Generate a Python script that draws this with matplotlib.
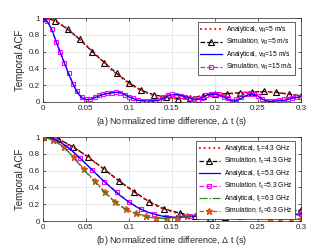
import matplotlib
matplotlib.use("Agg")
import matplotlib.pyplot as plt
import numpy as np

plt.rcParams['font.family'] = ['Liberation Sans', 'DejaVu Sans']
plt.rcParams['mathtext.fontset'] = 'custom'
plt.rcParams['mathtext.rm'] = 'Liberation Sans'
plt.rcParams['mathtext.it'] = 'Liberation Sans'

# ---------- panel (a) ----------
t_a5 = [0.00, 0.01, 0.02, 0.03, 0.04, 0.05, 0.06, 0.07, 0.08, 0.09, 0.10,
        0.11, 0.12, 0.13, 0.14, 0.15, 0.16, 0.17, 0.18, 0.19, 0.20, 0.21,
        0.22, 0.23, 0.24, 0.25, 0.26, 0.27, 0.28, 0.29, 0.30]
acf_a5 = [1.0, 0.98, 0.93, 0.86, 0.77, 0.68, 0.58, 0.48, 0.38, 0.30, 0.22,
          0.16, 0.11, 0.075, 0.05, 0.04, 0.045, 0.055, 0.065, 0.08, 0.09, 0.095,
          0.10, 0.11, 0.115, 0.12, 0.12, 0.115, 0.10, 0.085, 0.07]

t_s5 = [0.0, 0.0143, 0.0286, 0.0429, 0.0571, 0.0714, 0.0857, 0.1, 0.1143,
        0.1286, 0.1429, 0.1571, 0.1714, 0.1857, 0.2, 0.2143, 0.2286, 0.2429,
        0.2571, 0.2714, 0.2857, 0.3]
acf_s5 = [1.0, 0.97, 0.865, 0.745, 0.60, 0.47, 0.34, 0.23, 0.14, 0.085, 0.06,
          0.035, 0.05, 0.07, 0.09, 0.10, 0.11, 0.12, 0.125, 0.115, 0.095, 0.075]

t_15 = [0.000, 0.005, 0.010, 0.015, 0.020, 0.025, 0.030, 0.035, 0.040, 0.045,
        0.050, 0.055, 0.060, 0.065, 0.070, 0.075, 0.080, 0.085, 0.090, 0.095,
        0.100, 0.105, 0.110, 0.115, 0.120, 0.125, 0.130, 0.135, 0.140, 0.145,
        0.150, 0.155, 0.160, 0.165, 0.170, 0.175, 0.180, 0.185, 0.190, 0.195,
        0.200, 0.205, 0.210, 0.215, 0.220, 0.225, 0.230, 0.235, 0.240, 0.245,
        0.250, 0.255, 0.260, 0.265, 0.270, 0.275, 0.280, 0.285, 0.290, 0.295,
        0.300]
acf_a15 = [1.0, 0.96, 0.87, 0.73, 0.59, 0.46, 0.33, 0.21, 0.11, 0.05,
           0.03, 0.03, 0.05, 0.07, 0.09, 0.10, 0.11, 0.115, 0.11, 0.09,
           0.06, 0.04, 0.02, 0.014, 0.012, 0.012, 0.014, 0.02, 0.045, 0.07,
           0.085, 0.088, 0.08, 0.065, 0.05, 0.035, 0.03, 0.05, 0.08, 0.095,
           0.095, 0.08, 0.06, 0.035, 0.01, 0.015, 0.04, 0.07, 0.09, 0.095,
           0.07, 0.035, 0.01, 0.005, 0.01, 0.015, 0.02, 0.03, 0.045, 0.055,
           0.06]
acf_s15 = [1.0, 0.96, 0.865, 0.72, 0.595, 0.47, 0.34, 0.22, 0.127, 0.06,
           0.03, 0.03, 0.06, 0.08, 0.10, 0.105, 0.11, 0.12, 0.11, 0.087,
           0.06, 0.05, 0.024, 0.016, 0.016, 0.016, 0.016, 0.024, 0.063, 0.083,
           0.09, 0.083, 0.07, 0.063, 0.05, 0.03, 0.024, 0.044, 0.083, 0.10,
           0.10, 0.09, 0.063, 0.044, 0.012, 0.032, 0.063, 0.09, 0.10, 0.10,
           0.07, 0.03, 0.016, 0.016, 0.016, 0.024, 0.03, 0.04, 0.05, 0.06,
           0.065]

# ---------- panel (b) ----------
t_b = [0.00, 0.01, 0.02, 0.03, 0.04, 0.05, 0.06, 0.07, 0.08, 0.09, 0.10,
       0.11, 0.12, 0.13, 0.14, 0.15, 0.16, 0.17, 0.18, 0.19, 0.20, 0.21,
       0.22, 0.23, 0.24, 0.25, 0.26, 0.27, 0.28, 0.29, 0.30]
acf_a43 = [1.0, 0.99, 0.96, 0.91, 0.85, 0.78, 0.70, 0.625, 0.545, 0.465, 0.39,
           0.32, 0.25, 0.19, 0.145, 0.11, 0.08, 0.065, 0.055, 0.05, 0.05, 0.055,
           0.06, 0.07, 0.08, 0.09, 0.095, 0.10, 0.105, 0.11, 0.11]
acf_a53 = [1.0, 0.985, 0.94, 0.87, 0.78, 0.68, 0.58, 0.48, 0.39, 0.30, 0.225,
           0.16, 0.11, 0.08, 0.055, 0.045, 0.045, 0.05, 0.06, 0.07, 0.08, 0.09,
           0.095, 0.10, 0.105, 0.105, 0.10, 0.095, 0.09, 0.08, 0.07]
acf_a63 = [1.0, 0.97, 0.91, 0.82, 0.70, 0.58, 0.47, 0.36, 0.26, 0.18, 0.12,
           0.08, 0.05, 0.035, 0.03, 0.035, 0.045, 0.06, 0.07, 0.08, 0.085, 0.085,
           0.08, 0.07, 0.055, 0.04, 0.03, 0.02, 0.02, 0.02, 0.02]

t_s43 = [0.0, 0.0176, 0.0353, 0.0529, 0.0706, 0.0882, 0.1059, 0.1235, 0.1412,
         0.1588, 0.1765, 0.1941, 0.2118, 0.2294, 0.2471, 0.2647, 0.2824, 0.3]
acf_s43 = [1.0, 0.98, 0.88, 0.76, 0.62, 0.48, 0.35, 0.23, 0.145, 0.095, 0.06,
           0.04, 0.05, 0.065, 0.085, 0.10, 0.11, 0.13]

t_s53 = t_s5
acf_s53 = [1.0, 0.97, 0.88, 0.75, 0.61, 0.47, 0.345, 0.225, 0.14, 0.085, 0.05,
           0.05, 0.06, 0.07, 0.08, 0.09, 0.095, 0.10, 0.10, 0.10, 0.095, 0.08]

t_s63 = [0.0, 0.012, 0.024, 0.036, 0.048, 0.060, 0.072, 0.084, 0.096, 0.108,
         0.120, 0.132, 0.144, 0.156, 0.168, 0.180, 0.192, 0.204, 0.216, 0.228,
         0.240, 0.252, 0.264, 0.276, 0.288, 0.300]
acf_s63 = [1.0, 0.97, 0.88, 0.76, 0.615, 0.48, 0.345, 0.226, 0.14, 0.09,
           0.06, 0.04, 0.03, 0.04, 0.06, 0.07, 0.08, 0.085, 0.09, 0.085,
           0.075, 0.06, 0.03, 0.02, 0.02, 0.02]

xticks = [0, 0.05, 0.1, 0.15, 0.2, 0.25, 0.3]
xticklabels = ['0', '0.05', '0.1', '0.15', '0.2', '0.25', '0.3']
yticks = [0, 0.2, 0.4, 0.6, 0.8, 1]
yticklabels = ['0', '0.2', '0.4', '0.6', '0.8', '1']

RED = '#FF0000'
BLUE = '#0000FF'
MAG = '#FF00FF'
GREEN = '#228B22'
ORANGE = '#D95319'

fig = plt.figure(figsize=(3.32, 2.49), dpi=100)
ax1 = fig.add_axes([0.1295, 0.5904, 0.777, 0.3373])
ax2 = fig.add_axes([0.1295, 0.1124, 0.777, 0.3373])

lw = 0.9
ax1.plot(t_a5, acf_a5, ':', color=RED, lw=1.3, label='Analytical, v$_R$=5 m/s', zorder=3)
ax1.plot(t_s5, acf_s5, '--', color='black', lw=lw, marker='^', ms=4.2, mfc='none',
         mec='black', mew=0.8, label='Simulation, v$_R$=5 m/s', zorder=2)
ax1.plot(t_15, acf_a15, '-', color=BLUE, lw=lw, label='Analytical, v$_R$=15 m/s', zorder=3)
ax1.plot(t_15, acf_s15, '--', color=MAG, lw=lw, marker='s', ms=3.2, mfc='none',
         mec=MAG, mew=0.8, label='Simulation, v$_R$=15 m/s', zorder=2)

ax2.plot(t_b, acf_a43, ':', color=RED, lw=1.3, label='Analytical, f$_c$=4.3 GHz', zorder=3)
ax2.plot(t_s43, acf_s43, '--', color='black', lw=lw, marker='^', ms=4.2, mfc='none',
         mec='black', mew=0.8, label='Simulation, f$_c$=4.3 GHz', zorder=2)
ax2.plot(t_b, acf_a53, '-', color=BLUE, lw=lw, label='Analytical, f$_c$=5.3 GHz', zorder=3)
ax2.plot(t_s53, acf_s53, '--', color=MAG, lw=lw, marker='s', ms=3.2, mfc='none',
         mec=MAG, mew=0.8, label='Simulation, f$_c$=5.3 GHz', zorder=2)
ax2.plot(t_b, acf_a63, '-.', color=GREEN, lw=lw, label='Analytical, f$_c$=6.3 GHz', zorder=3)
ax2.plot(t_s63, acf_s63, '--', color=ORANGE, lw=lw, marker='*', ms=4.8, mfc=ORANGE,
         mec=ORANGE, label='Simulation, f$_c$=6.3 GHz', zorder=2)

for ax, xl in [(ax1, '(a) Normalized time difference, $\\Delta$ t (s)'),
               (ax2, '(b) Normalized time difference, $\\Delta$ t (s)')]:
    ax.set_xlim(0, 0.3)
    ax.set_ylim(0, 1)
    ax.set_xticks(xticks)
    ax.set_xticklabels(xticklabels)
    ax.set_yticks(yticks)
    ax.set_yticklabels(yticklabels)
    ax.tick_params(direction='in', length=2, width=0.5, labelsize=5.8, pad=2,
                   top=True, right=True, colors='#262626')
    ax.grid(True, color='#E0E0E0', lw=0.5)
    ax.set_axisbelow(True)
    for s in ax.spines.values():
        s.set_linewidth(0.5)
        s.set_color('#262626')
    ax.set_xlabel(xl, fontsize=6.5, labelpad=2, color='#262626')
    ax.set_ylabel('Temporal ACF', fontsize=7, labelpad=3, color='#262626')
    leg = ax.legend(loc='upper right', bbox_to_anchor=(0.977, 0.952), borderaxespad=0,
                    fontsize=4.8, handlelength=3.2, handletextpad=0.6, labelspacing=0.28,
                    borderpad=0.35, fancybox=False, framealpha=1, edgecolor='#262626')
    leg.get_frame().set_linewidth(0.5)

fig.savefig('out.png', dpi=100)
